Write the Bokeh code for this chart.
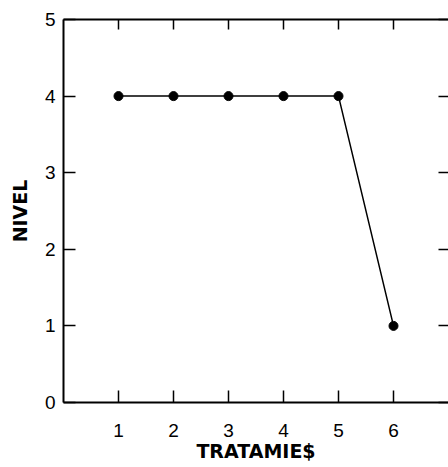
from bokeh.plotting import figure
from bokeh.models import LinearAxis, Range1d, FixedTicker
from bokeh.embed import file_html
from bokeh.resources import INLINE

tratamientos = [1, 2, 3, 4, 5, 6]
nivel = [4, 4, 4, 4, 4, 1]
x_ticks = [1, 2, 3, 4, 5, 6]
y_ticks = [0, 1, 2, 3, 4, 5]

TICK_FONT = "Liberation Sans"
LABEL_FONT = "DejaVu Sans"

p = figure(width=448, height=467, output_backend="svg", toolbar_location=None,
           x_range=Range1d(0, 7), y_range=Range1d(0, 5),
           min_border_left=63, min_border_right=0, min_border_top=19, min_border_bottom=65,
           x_axis_label="TRATAMIE$", y_axis_label="NIVEL")
p.grid.visible = False
p.outline_line_color = None
p.background_fill_color = "white"
p.border_fill_color = "white"

p.line(tratamientos, nivel, line_color="black", line_width=1.5)
p.scatter(tratamientos, nivel, size=9, color="black")

def style(ax, ticks, tick_standoff, label_standoff):
    ax.ticker = FixedTicker(ticks=ticks)
    ax.major_tick_in = 12
    ax.major_tick_out = 0
    ax.minor_tick_line_color = None
    ax.axis_line_width = 2
    ax.axis_line_color = "black"
    ax.major_tick_line_width = 1.5
    ax.major_tick_line_color = "black"
    ax.major_label_text_font = TICK_FONT
    ax.major_label_text_font_size = "19px"
    ax.major_label_text_color = "black"
    ax.major_label_standoff = tick_standoff
    ax.axis_label_text_font = LABEL_FONT
    ax.axis_label_text_font_style = "bold"
    ax.axis_label_text_font_size = "19px"
    ax.axis_label_text_color = "black"
    ax.axis_label_standoff = label_standoff

for ax in p.xaxis:
    style(ax, x_ticks, 21, 0)
for ax in p.yaxis:
    style(ax, y_ticks, 8, 11)

top = LinearAxis(ticker=FixedTicker(ticks=x_ticks), major_tick_in=10, major_tick_out=0,
                 minor_tick_line_color=None, axis_line_width=2, major_tick_line_width=1.5,
                 major_label_overrides={t: "" for t in x_ticks}, major_label_standoff=0)
p.add_layout(top, "above")

right = LinearAxis(ticker=FixedTicker(ticks=y_ticks), major_tick_in=10, major_tick_out=0,
                   minor_tick_line_color=None, axis_line_color=None, major_tick_line_width=1.5,
                   major_label_overrides={t: "" for t in y_ticks}, major_label_standoff=0)
p.add_layout(right, "right")

open("out.html", "w").write(file_html(p, INLINE))
